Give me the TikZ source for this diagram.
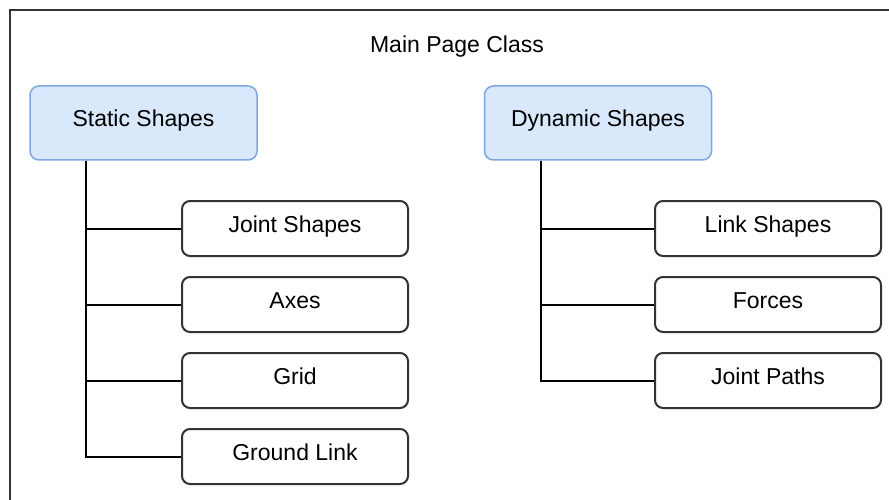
\documentclass[tikz,border=0pt]{standalone}
\usepackage{fontspec}
\setmainfont{Liberation Sans}
\usepackage{xcolor}
\definecolor{groupfill}{HTML}{DAE8FC}
\definecolor{groupdraw}{HTML}{7EA6E0}
\definecolor{itemdraw}{HTML}{333333}
\usetikzlibrary{calc}

\tikzset{
  label font/.style={font=\fontsize{23}{27}\selectfont, text height=16pt, text depth=9pt},
  group/.style={draw=groupdraw, fill=groupfill, line width=1.5pt, rounded corners=9pt,
    minimum width=227, minimum height=74, label font, anchor=center},
  item/.style={draw=itemdraw, fill=white, line width=2pt, rounded corners=8pt,
    minimum width=226, minimum height=55, label font, anchor=center},
  conn/.style={draw=black, line width=2pt},
}

\begin{document}
\begin{tikzpicture}[x=1pt, y=-1pt]
  \useasboundingbox (0,0) rectangle (889,500);
  \clip (0,0) rectangle (889,500);

  % --- page frame ---
  \draw[black!80, line width=2.5pt] (10,10) rectangle (950,560);
  \node[font=\fontsize{23}{27}\selectfont, anchor=base] (title) at (457,53) {Main Page Class};

  % --- groups ---
  \node[group] (static) at (143.5,123) {Static Shapes};
  \node[group] (dynamic) at (598,123) {Dynamic Shapes};

  % --- static children ---
  \node[item] (joint) at (295,228.5) {Joint Shapes};
  \node[item] (axes) at (295,304.5) {Axes};
  \node[item] (grid) at (295,380.5) {Grid};
  \node[item] (ground) at (295,456.5) {Ground Link};

  % --- dynamic children ---
  \node[item] (link) at (768,228.5) {Link Shapes};
  \node[item] (forces) at (768,304.5) {Forces};
  \node[item] (paths) at (768,380.5) {Joint Paths};

  % --- tree connectors ---
  \coordinate (sroot) at ($(static.south west)!0.25!(static.south east)$);
  \coordinate (droot) at ($(dynamic.south west)!0.25!(dynamic.south east)$);

  \draw[conn] (sroot) |- (joint.west);
  \draw[conn] (sroot) |- (axes.west);
  \draw[conn] (sroot) |- (grid.west);
  \draw[conn] (sroot) |- (ground.west);

  \draw[conn] (droot) |- (link.west);
  \draw[conn] (droot) |- (forces.west);
  \draw[conn] (droot) |- (paths.west);
\end{tikzpicture}
\end{document}
